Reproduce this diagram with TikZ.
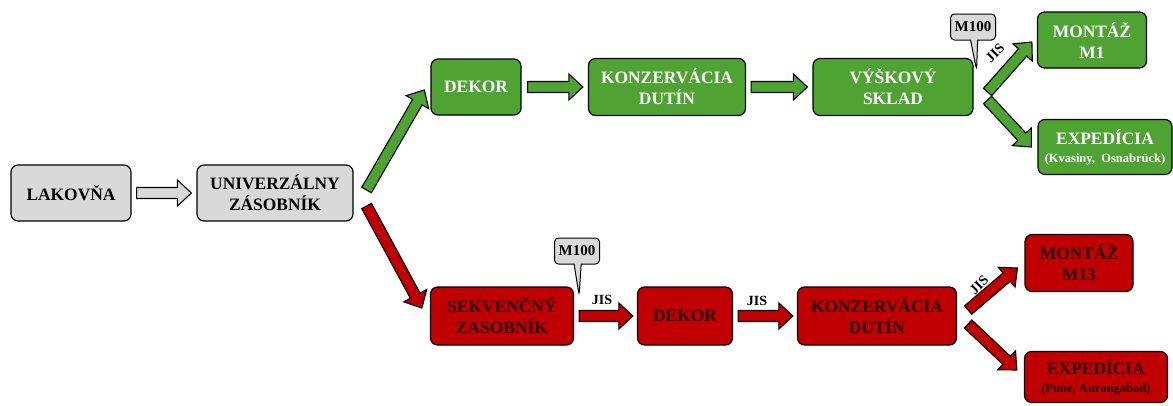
\documentclass[tikz,border=0pt]{standalone}
\usepackage{fontspec}
\setmainfont{Liberation Serif}
\usetikzlibrary{calc,shapes.callouts}
\definecolor{gfill}{RGB}{78,163,50}
\definecolor{rfill}{RGB}{192,0,0}
\definecolor{gyfill}{RGB}{217,217,217}
\definecolor{rtext}{RGB}{40,0,0}
\def\bw{5.5}\def\bh{13}\def\bl{14}
\newcommand\barrow[3]{%
\draw[line width=1.1pt, line join=miter, fill=#1] let \p1=(#2), \p2=(#3),
 \n1={atan2(\y2-\y1,\x2-\x1)}, \n2={veclen(\x2-\x1,\y2-\y1)} in
 ($(\p1)+(\n1+90:\bw pt)$)
 -- ($(\p1)+(\n1:{(\n2-\bl)*1pt})+(\n1+90:\bw pt)$)
 -- ($(\p1)+(\n1:{(\n2-\bl)*1pt})+(\n1+90:\bh pt)$)
 -- (\p2)
 -- ($(\p1)+(\n1:{(\n2-\bl)*1pt})+(\n1-90:\bh pt)$)
 -- ($(\p1)+(\n1:{(\n2-\bl)*1pt})+(\n1-90:\bw pt)$)
 -- ($(\p1)+(\n1-90:\bw pt)$) -- cycle;}
\tikzset{
 box/.style={draw=black, line width=1.2pt, rounded corners=7pt, inner sep=0pt,
   align=center, font=\fontsize{17.4}{21}\selectfont\bfseries},
 gbox/.style={box, fill=gfill, text=white},
 rbox/.style={box, fill=rfill, text=rtext},
 ybox/.style={box, fill=gyfill, text=black},
 jis/.style={font=\fontsize{14}{16}\selectfont\bfseries, inner sep=0pt},
 callbox/.style={rectangle callout, draw=black, line width=1pt, fill=gyfill, rounded corners=4pt,
   minimum width=45pt, minimum height=26pt, inner sep=0pt, font=\fontsize{15}{17}\selectfont\bfseries},
}
\newcommand\sub[1]{{\fontsize{12.5}{14}\selectfont #1}}
\begin{document}
\begin{tikzpicture}[x=1pt,y=-1pt]
\useasboundingbox (0,0) rectangle (1173,405);
% nodes
\node[ybox, minimum width=120, minimum height=56] (lak) at (71,193) {LAKOVŇA};
\node[ybox, minimum width=156, minimum height=56] (univ) at (275,193) {UNIVERZÁLNY\\ZÁSOBNÍK};
\node[gbox, minimum width=90, minimum height=56] (gdek) at (476,87) {DEKOR};
\node[gbox, minimum width=157, minimum height=57] (gkon) at (667,87) {KONZERVÁCIA\\DUTÍN};
\node[gbox, minimum width=160, minimum height=57] (gvys) at (893,87) {VÝŠKOVÝ\\SKLAD};
\node[gbox, minimum width=109, minimum height=56] (gm1) at (1092,40) {MONTÁŽ\\M1};
\node[gbox, minimum width=134, minimum height=55] (gexp) at (1105,147) {EXPEDÍCIA\\[-3pt]\sub{(Kvasiny,\ \ Osnabrück)}};
\node[rbox, minimum width=143, minimum height=58] (rsek) at (502,316) {SEKVENČNÝ\\ZASOBNÍK};
\node[rbox, minimum width=95, minimum height=58] (rdek) at (685,316) {DEKOR};
\node[rbox, minimum width=159, minimum height=58] (rkon) at (877,316) {KONZERVÁCIA\\DUTÍN};
\node[rbox, minimum width=108, minimum height=57] (rm13) at (1079,263) {MONTÁŽ\\M13};
\node[rbox, minimum width=143, minimum height=51] (rexp) at (1096,377) {EXPEDÍCIA\\[-3pt]\sub{(Pune, Aurangabad)}};
% callouts
\node[callbox, callout absolute pointer={([xshift=3pt,yshift=-12pt]gvys.north east)}] (gm100) at (973,27) {M100};
\node[callbox, callout absolute pointer={([xshift=5pt,yshift=-9pt]rsek.north east)}] (rm100) at (577,251) {M100};
% arrows
\barrow{gyfill}{[xshift=5pt]lak.east}{[xshift=-5pt]univ.west}
\barrow{gfill}{[xshift=13pt,yshift=3pt]univ.east}{[xshift=-6pt,yshift=-3pt]gdek.west}
\barrow{rfill}{[xshift=13pt,yshift=-13pt]univ.east}{[xshift=-8pt,yshift=8pt]rsek.west}
\barrow{gfill}{[xshift=6pt]gdek.east}{[xshift=-5pt]gkon.west}
\barrow{gfill}{[xshift=5pt]gkon.east}{[xshift=-5pt]gvys.west}
\barrow{gfill}{[xshift=14pt,yshift=-5pt]gvys.east}{[xshift=-5pt,yshift=-2pt]gm1.west}
\barrow{gfill}{[xshift=14pt,yshift=-13pt]gvys.east}{[xshift=-6pt]gexp.west}
\barrow{rfill}{[xshift=5pt]rsek.east}{[xshift=-4pt]rdek.west}
\barrow{rfill}{[xshift=5pt]rdek.east}{[xshift=-4pt]rkon.west}
\barrow{rfill}{[xshift=11pt,yshift=6pt]rkon.east}{[xshift=-7pt,yshift=-5pt]rm13.west}
\barrow{rfill}{[xshift=11pt,yshift=-8pt]rkon.east}{[xshift=-7pt,yshift=7pt]rexp.west}
% JIS labels
\node[jis, rotate=45] (jg) at (995,53) {JIS};
\node[jis, rotate=45] (jr) at (979,285) {JIS};
\node[jis] (j1) at (602,300) {JIS};
\node[jis] (j2) at (757,301) {JIS};
\end{tikzpicture}
\end{document}
